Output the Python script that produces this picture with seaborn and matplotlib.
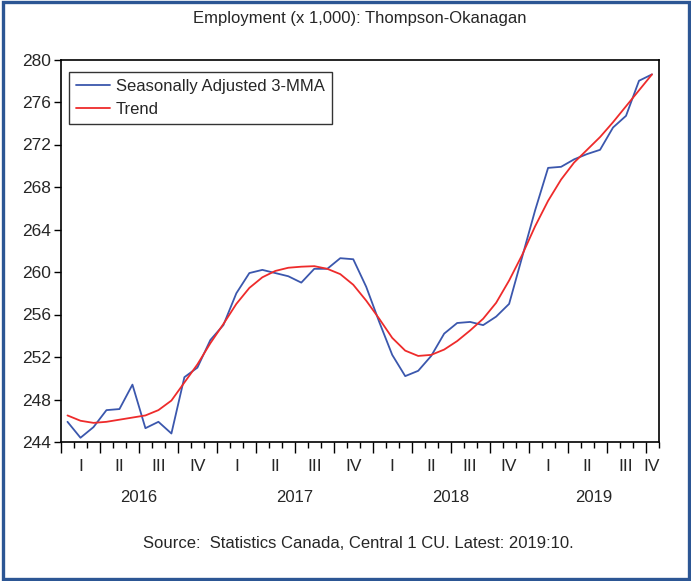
import numpy as np
import pandas as pd
import seaborn as sns
import matplotlib.pyplot as plt
from matplotlib import transforms
from matplotlib.patches import Rectangle

# monthly values, Jan 2016 .. Oct 2019
months = pd.period_range('2016-01', '2019-10', freq='M')
sa_3mma = [245.9, 244.4, 245.4, 247.0, 247.1, 249.4, 245.3, 245.9, 244.8, 250.1,
           251.0, 253.6, 255.0, 258.0, 259.9, 260.2, 259.9, 259.6, 259.0, 260.3,
           260.3, 261.3, 261.2, 258.6, 255.3, 252.2, 250.2, 250.7, 252.1, 254.2,
           255.2, 255.3, 255.0, 255.8, 257.0, 261.4, 265.8, 269.8, 269.9, 270.6,
           271.1, 271.5, 273.6, 274.7, 278.0, 278.6]
trend = [246.5, 246.0, 245.8, 245.9, 246.1, 246.3, 246.5, 247.0, 247.9, 249.6,
         251.3, 253.3, 255.1, 257.0, 258.5, 259.5, 260.1, 260.4, 260.5, 260.55,
         260.3, 259.8, 258.8, 257.3, 255.6, 253.8, 252.6, 252.1, 252.2, 252.7,
         253.5, 254.5, 255.6, 257.1, 259.2, 261.6, 264.3, 266.7, 268.7, 270.3,
         271.5, 272.7, 274.1, 275.6, 277.1, 278.6]
series_names = ['Seasonally Adjusted 3-MMA', 'Trend']
quarter_names = ['I', 'II', 'III', 'IV']
years = [2016, 2017, 2018, 2019]

x = np.arange(len(months)) + 0.5
df = pd.DataFrame({'x': np.concatenate([x, x]),
                   'value': sa_3mma + trend,
                   'series': [series_names[0]] * len(x) + [series_names[1]] * len(x)})

sns.set_style('white')
plt.rcParams['font.family'] = ['Liberation Sans', 'DejaVu Sans']

fig = plt.figure(figsize=(6.91, 5.81), dpi=100)
ax = fig.add_axes([61 / 691, 1 - 442 / 581, 597.5 / 691, 382.5 / 581])

sns.lineplot(data=df, x='x', y='value', hue='series', ax=ax,
             palette={series_names[0]: '#3b57ad', series_names[1]: '#ee2b2b'},
             linewidth=1.3)

ax.set_xlim(0, len(months))
ax.set_ylim(244, 280)
ax.set_yticks(np.arange(244, 281, 4))
ax.set_xticks(np.arange(0, len(months), 3))
ax.set_xticks(np.arange(0, len(months) + 1), minor=True)
ax.set_xticklabels([])
ax.tick_params(axis='x', which='major', length=8, width=1, direction='out', bottom=True, color='black')
ax.tick_params(axis='x', which='minor', length=4, width=1, direction='out', bottom=True, color='black')
ax.tick_params(axis='y', length=5, width=1, direction='out', left=True, labelsize=12.5, pad=2, color='black')
ax.set_xlabel('')
ax.set_ylabel('')
for s in ax.spines.values():
    s.set_color('black')
    s.set_linewidth(1.2)

# quarter and year labels under the axis
trans = transforms.blended_transform_factory(ax.transData, ax.transAxes)
for k in range(0, len(months), 3):
    q = months[k].quarter
    centre = min(k + 1.5, len(months) - 0.5)
    ax.text(centre, -0.063, quarter_names[q - 1], transform=trans,
            ha='center', va='center', fontsize=12.5)
for yr in years:
    idx = [i for i, m in enumerate(months) if m.year == yr]
    ax.text((idx[0] + idx[-1] + 1) / 2, -0.144, str(yr), transform=trans,
            ha='center', va='center', fontsize=12)

leg = ax.legend(loc='upper left', bbox_to_anchor=(8 / 597.5, 1 - 12.5 / 382.5),
                borderaxespad=0, frameon=True, fancybox=False, fontsize=12,
                handlelength=2.05, handletextpad=0.35, borderpad=0.42,
                labelspacing=0.5, title=None)
leg.get_frame().set_edgecolor('black')
leg.get_frame().set_linewidth(1.0)
for h in leg.get_lines():
    h.set_linewidth(1.3)

fig.text(0.52, 1 - 18 / 581, 'Employment (x 1,000): Thompson-Okanagan',
         ha='center', va='center', fontsize=12)
fig.text(0.518, 1 - 544 / 581, 'Source:  Statistics Canada, Central 1 CU. Latest: 2019:10.',
         ha='center', va='center', fontsize=12)

# blue frame around the whole chart
fig.patches.append(Rectangle((0.004, 0.004), 0.993, 0.993, transform=fig.transFigure,
                             fill=False, edgecolor='#2c5694', linewidth=2.4))

fig.savefig('out.png', dpi=100)
